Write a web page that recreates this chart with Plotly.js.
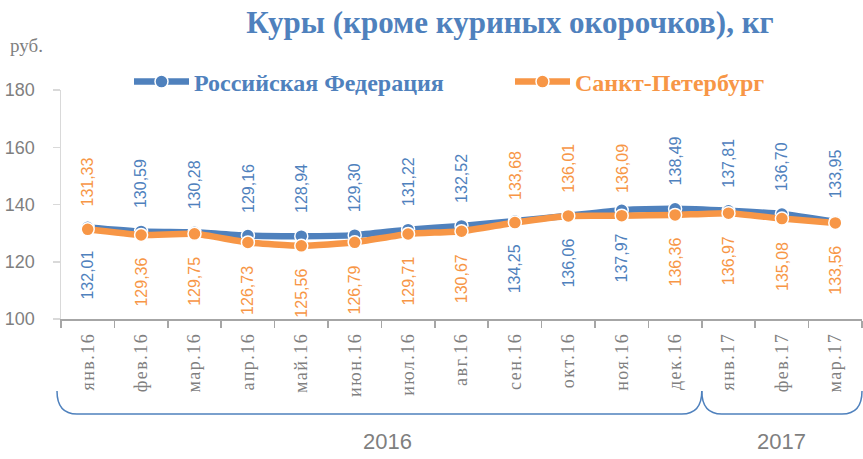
<!DOCTYPE html>
<html>
<head>
<meta charset="utf-8">
<script src="https://cdn.plot.ly/plotly-3.0.1.min.js"></script>
<style>
html,body{margin:0;padding:0;background:#fff;}
.xtick text{letter-spacing:1.5px;}
</style>
</head>
<body>
<div id="chart" style="width:863px;height:459px;"></div>
<script>
// ---- data ----
const categories = ['янв.16','фев.16','мар.16','апр.16','май.16','июн.16','июл.16','авг.16','сен.16','окт.16','ноя.16','дек.16','янв.17','фев.17','мар.17'];
const rfValues  = [132.01,130.59,130.28,129.16,128.94,129.30,131.22,132.52,134.25,136.06,137.97,138.49,137.81,136.70,133.95];
const spbValues = [131.33,129.36,129.75,126.73,125.56,126.79,129.71,130.67,133.68,136.01,136.09,136.36,136.97,135.08,133.56];
const yearLabels = ['2016','2017'];
const yearCounts = [12,3];
const yTickVals = [100,120,140,160,180];
const seriesNames = ['Российская Федерация','Санкт-Петербург'];

// ---- styling / layout ----
const BLUE = '#4F81BD', ORANGE = '#F79646', GREY = '#7f7f7f';
// label placement per point for the RF series (SPb is opposite)
const rfAbove = [false,true,true,true,true,true,true,true,false,false,false,true,true,true,true];

function fmt(v){ return v.toFixed(2).replace('.', ','); }

const traces = [
  {
    x: categories, y: rfValues, type: 'scatter', mode: 'lines+markers',
    name: '<span style="color:'+BLUE+'">'+seriesNames[0]+'</span>',
    line: {color: BLUE, width: 6.5, shape: 'spline', smoothing: 0.5},
    marker: {color: BLUE, size: 13, line: {color: '#fff', width: 1.5}},
    hoverinfo: 'skip', legend: 'legend'
  },
  {
    x: categories, y: spbValues, type: 'scatter', mode: 'lines+markers',
    name: '<span style="color:'+ORANGE+'">'+seriesNames[1]+'</span>',
    line: {color: ORANGE, width: 6.5, shape: 'spline', smoothing: 0.5},
    marker: {color: ORANGE, size: 13, line: {color: '#fff', width: 1.5}},
    hoverinfo: 'skip', legend: 'legend2'
  }
];

const annotations = [];
const labelFont = 'Liberation Sans Narrow, Liberation Sans, sans-serif';
categories.forEach((c, i) => {
  const up = rfAbove[i];
  annotations.push({
    x: c, y: rfValues[i], xref: 'x', yref: 'y', text: fmt(rfValues[i]),
    textangle: -90, showarrow: false,
    yanchor: up ? 'bottom' : 'top', yshift: up ? 21 : -21,
    font: {family: labelFont, size: 16, color: BLUE}
  });
  annotations.push({
    x: c, y: spbValues[i], xref: 'x', yref: 'y', text: fmt(spbValues[i]),
    textangle: -90, showarrow: false,
    yanchor: up ? 'top' : 'bottom', yshift: up ? -21 : 21,
    font: {family: labelFont, size: 16, color: ORANGE}
  });
});

// plot-area pixel geometry
const L = 61, R = 862, T = 90, B = 319;
const W = R - L, H = B - T;
const px = x => (x - L) / W;
const py = y => (B - y) / H;

annotations.push({
  xref: 'paper', yref: 'paper', x: px(8), y: py(45), xanchor: 'left', yanchor: 'middle',
  text: 'руб.', showarrow: false,
  font: {family: 'Liberation Serif, serif', size: 19, color: GREY}
});

// year braces
const shapes = [];
const total = categories.length;
let start = 0;
const braceTop = 391, braceBot = 414, r = 20;
yearLabels.forEach((lab, k) => {
  const n = yearCounts[k];
  const x0 = L + W * start / total - (k === 0 ? 4 : 0);
  const x1 = L + W * (start + n) / total;
  const p = (x, y) => px(x) + ',' + py(y);
  const path = 'M' + p(x0, braceTop) +
    ' C' + p(x0, braceBot - 8) + ' ' + p(x0 + 6, braceBot) + ' ' + p(x0 + r, braceBot) +
    ' L' + p(x1 - r, braceBot) +
    ' C' + p(x1 - 6, braceBot) + ' ' + p(x1, braceBot - 8) + ' ' + p(x1, braceTop);
  shapes.push({type: 'path', xref: 'paper', yref: 'paper', path: path,
    line: {color: BLUE, width: 1.5}});
  annotations.push({
    xref: 'paper', yref: 'paper', x: px((x0 + x1) / 2 + (k === 0 ? 8 : 0)), y: py(441),
    xanchor: 'center', yanchor: 'middle', text: lab, showarrow: false,
    font: {family: labelFont, size: 22, color: GREY}
  });
  start += n;
});

const legendBase = {
  orientation: 'h', xanchor: 'left', y: py(82), yanchor: 'middle',
  font: {family: 'Liberation Serif, Times New Roman, serif', size: 24, weight: 'bold'},
  itemwidth: 55, bgcolor: 'rgba(0,0,0,0)'
};

const layout = {
  width: 863, height: 459, autosize: false,
  margin: {l: L, r: 863 - R, t: T, b: 459 - B, pad: 0},
  paper_bgcolor: '#fff', plot_bgcolor: '#fff',
  title: {
    text: 'Куры (кроме куриных окорочков), кг',
    font: {family: 'Liberation Serif, Times New Roman, serif', size: 31, color: BLUE, weight: 'bold'},
    x: 510 / 863, xanchor: 'center', xref: 'container',
    y: 1 - 22 / 459, yanchor: 'middle', yref: 'container'
  },
  showlegend: true,
  legend: Object.assign({}, legendBase, {x: px(129)}),
  legend2: Object.assign({}, legendBase, {x: px(510)}),
  xaxis: {
    type: 'category', range: [-0.5, total - 0.5],
    showline: true, linecolor: '#a6a6a6', linewidth: 1.5,
    ticks: 'outside', tickson: 'boundaries', ticklen: 7, tickcolor: '#a6a6a6', tickwidth: 1.5,
    tickangle: -90, ticklabelstandoff: 5,
    tickfont: {family: 'Liberation Serif, Times New Roman, serif', size: 18, color: GREY},
    showgrid: false, zeroline: false, fixedrange: true
  },
  yaxis: {
    range: [100, 180], tickvals: yTickVals, ticktext: yTickVals.map(String),
    showline: true, linecolor: '#d9d9d9', linewidth: 1.5,
    ticks: 'outside', ticklen: 7, tickcolor: '#d9d9d9', tickwidth: 1.5,
    ticklabelstandoff: 14,
    tickfont: {family: labelFont, size: 18, color: GREY},
    showgrid: false, zeroline: false, fixedrange: true
  },
  annotations: annotations,
  shapes: shapes
};

Plotly.newPlot('chart', traces, layout, {displayModeBar: false, staticPlot: true});
</script>
</body>
</html>
